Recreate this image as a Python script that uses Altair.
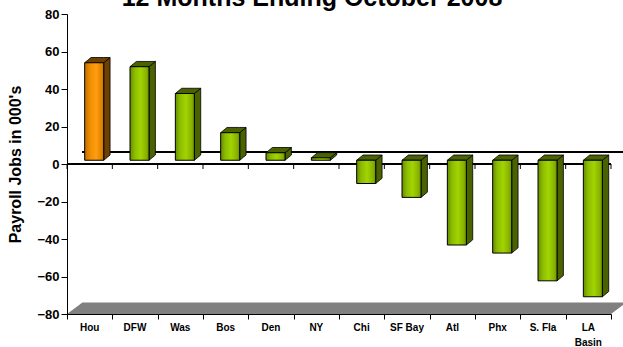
import altair as alt
import pandas as pd

# Net change in payroll jobs (thousands), 12 months ending October 2008
cities = ["Hou", "DFW", "Was", "Bos", "Den", "NY", "Chi", "SF Bay", "Atl", "Phx", "S. Fla", "LA Basin"]
jobs = [52.0, 49.9, 35.6, 14.7, 4.0, 1.3, -12.4, -19.8, -45.2, -49.5, -64.3, -72.8]
highlight_city = "Hou"
y_ticks = [-80, -60, -40, -20, 0, 20, 40, 60, 80]
chart_title = "12 Months Ending October 2008"
y_title = "Payroll Jobs in 000's"

W, H = 544, 300
PAD_LEFT = 67
FONT = "Liberation Sans"

# 3-D projection constants (data units)
BAR_L, BAR_R = 0.39, 0.81     # front face inside each category slot
DX, DY = 0.14, 2.8            # bar depth
BASE = 2.0                    # front face floor sits slightly above the axis
WALL_DX, WALL_DY = 0.34, 6.2  # full depth of the back wall / floor

df = pd.DataFrame({"city": cities, "jobs": jobs, "idx": list(range(len(cities)))})
n = len(cities)

xscale = alt.Scale(domain=[0, n], nice=False, zero=False)
yscale = alt.Scale(domain=[-80, 80], nice=False)

x_axis = alt.Axis(values=list(range(n + 1)), labels=False, title=None, grid=False,
                  ticks=True, tickSize=5, tickColor="black", domainColor="black",
                  tickWidth=1, domainWidth=1, zindex=1)
y_axis = alt.Axis(values=y_ticks, title=y_title, grid=False, tickSize=6, labelPadding=2,
                  labelFont=FONT, labelFontWeight="bold", labelFontSize=13,
                  labelColor="black", tickColor="black", domainColor="black",
                  tickWidth=1, domainWidth=1,
                  titleFont=FONT, titleFontWeight="bold", titleFontSize=16,
                  titleColor="black", titlePadding=13, zindex=1)


def X(field):
    return alt.X(field, scale=xscale, axis=x_axis)


def Y(field):
    return alt.Y(field, scale=yscale, axis=y_axis)


base = alt.Chart(df).transform_calculate(
    xl=f"datum.idx + {BAR_L}",
    xr=f"datum.idx + {BAR_R}",
    lo=f"{BASE} + min(datum.jobs, 0)",
    hi=f"{BASE} + max(datum.jobs, 0)",
    tone=f"datum.city == '{highlight_city}' ? 'hi' : (datum.jobs < 0 ? 'neg' : 'pos')",
)

# Gray floor at the bottom of the value range
floor = alt.Chart(pd.DataFrame({"k": [0, 1, 2, 3]})).transform_calculate(
    fx=f"[0, {WALL_DX}, {n}, {n} + {WALL_DX}][datum.k]",
    fy=f"[-80, -80, -80, -80 + {WALL_DY}][datum.k]",
    fy2=f"[-80, -80 + {WALL_DY}, -80 + {WALL_DY}, -80 + {WALL_DY}][datum.k]",
).mark_area(color="#808080", interpolate="linear").encode(
    x=X("fx:Q"), y=Y("fy:Q"), y2="fy2:Q",
)

# Zero line on the back wall and on the front axis
back_zero = alt.Chart(df).mark_rule(color="black", strokeWidth=1).encode(
    x=alt.datum(WALL_DX, scale=xscale, axis=x_axis), x2=alt.datum(n + WALL_DX + 0.5),
    y=alt.datum(WALL_DY + 0.2, scale=yscale, axis=y_axis),
)
front_zero = alt.Chart(df).mark_rule(color="black", strokeWidth=1).encode(
    x=alt.datum(0, scale=xscale, axis=x_axis), x2=alt.datum(n),
    y=alt.datum(0, scale=yscale, axis=y_axis),
)
zero_ticks = alt.Chart(alt.sequence(0, n + 1, as_="b")).mark_rule(
    color="black", strokeWidth=1, y2Offset=5
).encode(
    x=X("b:Q"),
    y=alt.datum(0, scale=yscale, axis=y_axis), y2=alt.datum(0),
)

tone_scale = alt.Scale(domain=["hi", "neg", "pos"], range=["#a86200", "#1c2200", "#6f8f00"])
side_scale = alt.Scale(domain=["hi", "neg", "pos"], range=["#6e4100", "#4a6200", "#4a6200"])

side = base.transform_calculate(k="[0, 1]").transform_flatten(["k"]).transform_calculate(
    sx=f"datum.xr + datum.k * {DX}",
    sy=f"datum.lo + datum.k * {DY}",
    sy2=f"datum.hi + datum.k * {DY}",
).mark_area(stroke="black", strokeWidth=0.8, interpolate="linear").encode(
    x=X("sx:Q"), y=Y("sy:Q"), y2="sy2:Q",
    detail="city:N",
    fill=alt.Fill("tone:N", scale=side_scale, legend=None),
)

top = base.transform_calculate(k="[0, 1, 2, 3]").transform_flatten(["k"]).transform_calculate(
    tx=f"[datum.xl, datum.xl + {DX}, datum.xr, datum.xr + {DX}][datum.k]",
    ty=f"[datum.hi, datum.hi, datum.hi, datum.hi + {DY}][datum.k]",
    ty2=f"[datum.hi, datum.hi + {DY}, datum.hi + {DY}, datum.hi + {DY}][datum.k]",
).mark_area(stroke="black", strokeWidth=0.8, interpolate="linear").encode(
    x=X("tx:Q"), y=Y("ty:Q"), y2="ty2:Q",
    detail="city:N",
    fill=alt.Fill("tone:N", scale=tone_scale, legend=None),
)


def front_face(stops, keep):
    grad = alt.LinearGradient(
        gradient="linear", x1=0, x2=1, y1=0, y2=0,
        stops=[alt.GradientStop(color=c, offset=o) for o, c in stops],
    )
    return base.transform_filter(keep).mark_rect(
        color=grad, stroke="black", strokeWidth=1
    ).encode(
        x=X("xl:Q"), x2="xr:Q",
        y=Y("lo:Q"), y2="hi:Q",
    )


front_green = front_face(
    [(0, "#688c00"), (0.25, "#8cbd00"), (0.55, "#a2d400"), (0.85, "#88b400"), (1, "#6a8f00")],
    f"datum.city != '{highlight_city}'",
)
front_orange = front_face(
    [(0, "#c06c00"), (0.3, "#f09000"), (0.6, "#ff9d12"), (0.85, "#e48600"), (1, "#c87200")],
    f"datum.city == '{highlight_city}'",
)

labels = base.transform_calculate(
    cx="datum.idx + 0.5",
    lab="replace(datum.city, 'LA ', 'LA\\n')",
).mark_text(
    font=FONT, fontWeight="bold", fontSize=10, color="black",
    baseline="alphabetic", align="center", lineBreak="\n", lineHeight=14.5,
).encode(
    x=X("cx:Q"),
    y=alt.value(H + 17),
    text="lab:N",
)

# Chart title, centred on the page width
title = alt.Chart(pd.DataFrame({"t": [chart_title]})).mark_text(
    font=FONT, fontWeight="bold", fontSize=25, color="black",
    baseline="alphabetic", align="center",
).encode(x=alt.value(312 - PAD_LEFT), y=alt.value(-8), text="t:N")

chart = alt.layer(
    floor, back_zero, front_zero, zero_ticks,
    side, top, front_green, front_orange, labels, title,
).properties(
    width=W, height=H,
    autosize=alt.AutoSizeParams(type="none"),
    padding={"left": PAD_LEFT, "top": 14, "right": 12, "bottom": 33},
    background="white",
).configure_view(stroke=None)

chart.save("out.html", embed_options={"renderer": "svg", "actions": False})
